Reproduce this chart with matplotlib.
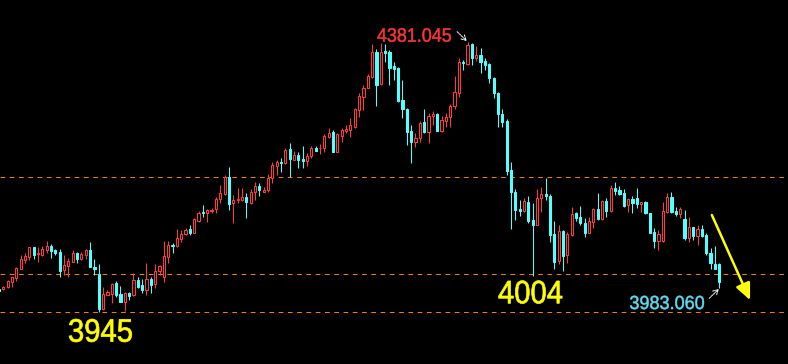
import matplotlib
matplotlib.use("Agg")
import matplotlib.pyplot as plt
import matplotlib.transforms as mtransforms
from matplotlib.textpath import TextPath
from matplotlib.patches import PathPatch
from matplotlib.font_manager import FontProperties
import numpy as np

# candle data (index order, left to right)
opens = [
    3982.0, 3981.5, 3985.2, 3993.3, 4000.2, 4014.8, 4028.9, 4034.2, 4049.4, 4037.8,
    4037.5, 4045.1, 4052.0, 4045.1, 4042.3, 4012.7, 4019.2, 4026.1, 4039.7, 4031.0,
    4037.5, 4045.1, 4017.1, 4006.2, 3949.6, 3972.7, 3973.9, 3991.2, 3973.9, 3961.4,
    3975.0, 3971.8, 3996.5, 3988.4, 3980.3, 3998.6, 3989.6, 4011.6, 4000.9, 4034.2,
    4053.1, 4052.0, 4062.9, 4070.5, 4078.5, 4073.0, 4092.5, 4107.0, 4104.4, 4108.6,
    4110.9, 4127.6, 4135.7, 4162.7, 4120.6, 4125.9, 4125.9, 4131.3, 4120.6, 4138.4,
    4148.6, 4139.4, 4142.1, 4162.0, 4181.4, 4187.9, 4185.3, 4208.0, 4191.1, 4198.7,
    4192.3, 4189.5, 4197.6, 4209.6, 4209.6, 4209.6, 4228.4, 4235.5, 4204.1, 4230.0,
    4237.6, 4239.2, 4244.5, 4271.5, 4293.1, 4307.6, 4325.4, 4364.9, 4313.1, 4367.0,
    4365.9, 4342.7, 4340.0, 4287.7, 4273.2, 4237.6, 4220.3, 4225.8, 4252.1, 4236.4,
    4261.8, 4264.6, 4238.1, 4254.2, 4259.7, 4278.5, 4299.5, 4349.7, 4346.0, 4378.3,
    4355.2, 4360.5, 4351.3, 4346.0, 4322.8, 4299.5, 4264.6, 4253.7, 4174.5, 4138.4,
    4111.4, 4108.1, 4122.2, 4093.6, 4085.5, 4128.7, 4136.1, 4132.9, 4070.5, 4027.3,
    4075.8, 4037.0, 4069.3, 4104.4, 4098.9, 4089.2, 4073.0, 4090.8, 4111.4, 4094.7,
    4124.8, 4108.6, 4144.9, 4142.1, 4137.8, 4117.9, 4127.1, 4128.7, 4119.0, 4123.2,
    4105.4, 4074.7, 4060.1, 4060.1, 4107.0, 4131.3, 4108.6, 4103.3, 4094.7, 4064.0,
    4081.8, 4067.7, 4078.5, 4069.3, 4040.7, 4022.4, 4022.4,
]
highs = [
    3983.6, 3987.3, 3996.5, 4001.9, 4018.0, 4037.0, 4039.7, 4050.4, 4049.4, 4049.4,
    4051.5, 4059.6, 4054.8, 4046.7, 4046.2, 4037.0, 4032.6, 4045.1, 4041.8, 4041.3,
    4047.2, 4057.5, 4030.5, 4021.9, 3984.7, 3980.3, 3991.2, 3994.9, 3986.8, 3977.6,
    3977.6, 4007.4, 4001.9, 3997.7, 4023.5, 4000.9, 4022.4, 4020.8, 4059.6, 4059.6,
    4055.9, 4079.0, 4077.4, 4080.6, 4085.5, 4096.3, 4108.1, 4117.9, 4111.4, 4113.0,
    4131.3, 4150.2, 4166.4, 4179.8, 4134.0, 4144.9, 4144.9, 4136.8, 4143.3, 4155.6,
    4153.0, 4147.5, 4167.5, 4186.9, 4190.7, 4193.4, 4209.6, 4218.6, 4205.2, 4203.1,
    4213.3, 4201.5, 4213.3, 4213.3, 4216.1, 4232.2, 4241.9, 4239.2, 4234.8, 4241.9,
    4247.3, 4258.1, 4275.3, 4298.6, 4312.0, 4329.3, 4377.8, 4370.2, 4379.5, 4378.3,
    4368.6, 4349.7, 4341.6, 4320.1, 4275.3, 4247.3, 4233.9, 4254.2, 4272.7, 4267.2,
    4270.4, 4266.2, 4261.8, 4266.2, 4280.8, 4326.6, 4356.2, 4352.4, 4381.045, 4380.4,
    4375.1, 4371.4, 4355.2, 4348.1, 4325.4, 4301.1, 4272.7, 4257.0, 4186.9, 4143.7,
    4125.9, 4128.7, 4132.4, 4120.6, 4143.3, 4147.5, 4162.0, 4135.2, 4092.0, 4085.5,
    4077.4, 4074.7, 4114.1, 4107.0, 4116.2, 4096.3, 4098.9, 4112.5, 4137.8, 4125.9,
    4128.7, 4150.2, 4154.6, 4148.6, 4143.3, 4128.7, 4132.4, 4144.9, 4123.2, 4124.3,
    4105.4, 4080.2, 4077.4, 4123.2, 4136.8, 4139.4, 4114.1, 4114.1, 4109.8, 4098.9,
    4082.7, 4085.5, 4085.5, 4072.1, 4047.8, 4051.5, 4023.5,
]
lows = [
    3977.1, 3980.3, 3983.6, 3985.2, 3995.4, 4013.8, 4023.5, 4028.9, 4031.0, 4026.1,
    4035.3, 4039.7, 4031.6, 4037.5, 4001.9, 4004.6, 4001.9, 4025.2, 4023.5, 4028.9,
    4031.0, 4018.0, 4004.6, 3945.2, 3948.0, 3972.3, 3958.8, 3969.5, 3961.4, 3946.4,
    3964.2, 3970.6, 3983.1, 3976.0, 3972.3, 3975.0, 3984.1, 4004.6, 3993.8, 4024.5,
    4040.7, 4050.4, 4058.5, 4068.8, 4069.3, 4072.1, 4090.8, 4098.9, 4090.8, 4105.4,
    4105.4, 4120.6, 4134.0, 4109.8, 4089.2, 4120.6, 4124.8, 4096.8, 4119.5, 4125.9,
    4132.9, 4138.4, 4139.4, 4153.0, 4166.4, 4171.7, 4183.7, 4163.6, 4190.7, 4177.2,
    4178.2, 4181.4, 4193.4, 4205.2, 4199.9, 4204.1, 4225.8, 4204.1, 4204.1, 4220.3,
    4233.9, 4227.4, 4242.9, 4260.7, 4271.5, 4306.7, 4322.8, 4278.5, 4312.0, 4349.7,
    4312.0, 4320.1, 4285.0, 4258.1, 4214.9, 4186.3, 4212.2, 4220.3, 4233.9, 4217.7,
    4247.3, 4238.1, 4236.4, 4244.5, 4244.5, 4272.7, 4292.1, 4336.3, 4344.3, 4344.3,
    4351.3, 4331.9, 4336.3, 4315.7, 4290.5, 4244.5, 4244.5, 4166.4, 4079.0, 4093.6,
    4100.5, 4107.0, 4088.3, 4003.5, 4085.5, 4107.0, 4125.9, 4057.5, 4014.3, 4021.9,
    4011.1, 4023.5, 4067.7, 4092.5, 4085.5, 4065.6, 4072.1, 4080.2, 4093.6, 4093.6,
    4098.9, 4107.0, 4134.0, 4134.0, 4115.1, 4107.0, 4104.4, 4112.5, 4107.0, 4102.8,
    4072.1, 4047.8, 4045.1, 4058.5, 4104.4, 4105.4, 4100.5, 4096.3, 4061.2, 4058.5,
    4061.2, 4053.1, 4066.6, 4037.0, 4013.8, 4013.8, 3983.06,
]
closes = [
    3978.7, 3985.7, 3994.9, 4000.9, 4015.9, 4030.0, 4034.9, 4049.4, 4037.0, 4039.4,
    4046.7, 4051.5, 4043.0, 4040.7, 4011.6, 4021.3, 4027.7, 4039.7, 4031.0, 4038.1,
    4045.1, 4018.0, 4014.8, 3949.6, 3973.4, 3977.1, 3990.0, 3972.3, 3961.4, 3976.0,
    3970.6, 3996.5, 3985.7, 3980.3, 3997.7, 3988.4, 4011.1, 4019.2, 4035.3, 4053.1,
    4051.5, 4064.0, 4070.5, 4077.4, 4073.0, 4095.2, 4104.4, 4104.4, 4109.8, 4109.8,
    4127.1, 4136.8, 4162.7, 4119.5, 4125.9, 4127.1, 4130.3, 4122.7, 4139.4, 4149.1,
    4141.6, 4142.1, 4161.1, 4182.6, 4187.9, 4185.3, 4206.8, 4191.8, 4198.7, 4190.7,
    4189.0, 4197.1, 4209.6, 4205.7, 4210.6, 4229.5, 4234.8, 4204.1, 4232.2, 4239.2,
    4240.8, 4247.3, 4273.2, 4294.2, 4306.7, 4326.6, 4364.9, 4312.0, 4365.9, 4364.2,
    4340.0, 4337.9, 4286.6, 4272.7, 4236.4, 4220.3, 4226.7, 4250.0, 4236.4, 4261.8,
    4265.1, 4238.1, 4255.4, 4259.7, 4278.5, 4300.2, 4349.7, 4347.1, 4376.7, 4355.2,
    4360.5, 4349.7, 4344.3, 4322.8, 4298.6, 4264.6, 4251.6, 4172.9, 4138.4, 4109.8,
    4108.1, 4124.8, 4092.0, 4085.5, 4128.7, 4135.2, 4132.9, 4069.3, 4026.1, 4075.8,
    4035.8, 4070.9, 4103.3, 4096.3, 4088.3, 4073.0, 4092.5, 4110.9, 4094.7, 4124.8,
    4108.6, 4144.9, 4141.0, 4135.7, 4116.7, 4127.1, 4120.6, 4119.5, 4123.2, 4104.4,
    4073.0, 4060.1, 4070.9, 4108.6, 4131.3, 4107.0, 4103.3, 4110.9, 4064.0, 4081.8,
    4067.7, 4078.5, 4067.7, 4039.7, 4024.5, 4013.8, 3993.8,
]

# dashed support / resistance levels
levels = [4163.0, 4005.5, 3945.5]

# annotations
high_label = "4381.045"
low_label = "3983.060"
support_labels = ["3945", "4004"]

UP = "#ff3b3b"
DOWN = "#54ffff"
LEVEL = "#ee8010"

o = np.array(opens)
h = np.array(highs)
l = np.array(lows)
c = np.array(closes)
idx = np.arange(len(o))
up = c >= o

fig = plt.figure(figsize=(7.88, 3.64), dpi=100, facecolor="black")
ax = fig.add_axes([0, 0, 1, 1])
ax.set_facecolor("black")
ax.set_xlim(0.24, 181.85)
ax.set_ylim(3860.6, 4449.5)
ax.axis("off")

for lv in levels:
    ax.axhline(lv, color=LEVEL, lw=0.75, linestyle=(0, (4.5, 4.4)), zorder=1)

colors = np.where(up, UP, DOWN)
ax.vlines(idx, l, h, colors=colors, lw=0.75, zorder=2)

body = np.maximum(np.abs(c - o), 0.8)
bottom = np.minimum(o, c)
ax.bar(idx[up], body[up], bottom=bottom[up], width=0.5,
       facecolor="black", edgecolor=UP, linewidth=0.75, zorder=3)
ax.bar(idx[~up], body[~up], bottom=bottom[~up], width=0.5,
       facecolor=DOWN, edgecolor=DOWN, linewidth=0.75, zorder=3)

FONT = FontProperties(family="Liberation Sans")


def put_label(s, xy, size_px, color, squeeze, edge=0.35):
    # text drawn as a path so it can be narrowed like the original font
    path = TextPath((0, 0), s, size=size_px, prop=FONT)
    x0, y0 = ax.transData.transform(xy)
    tr = mtransforms.Affine2D().scale(squeeze, 1.0).translate(x0, y0)
    ax.add_artist(PathPatch(path, transform=tr, facecolor=color,
                            edgecolor=color, linewidth=edge, zorder=5))


put_label(high_label, (87.1, 4382.0), 19.5, "#ff3636", 0.92)
put_label(low_label, (145.3, 3949.5), 19.0, "#60dcf4", 0.95)
put_label(support_labels[0], (15.9, 3896.7), 32.5, "#ffff00", 0.9, 0.5)
put_label(support_labels[1], (115.0, 3958.8), 32.5, "#ffff00", 0.9, 0.5)

white_arrow = dict(arrowstyle="->,head_length=0.35,head_width=0.2", color="white",
                   lw=0.7, linestyle=(0, (2, 1)), shrinkA=0, shrinkB=0)
ax.annotate("", xy=(107.8, 4383.2), xytext=(105.6, 4398.2), arrowprops=white_arrow)
ax.annotate("", xy=(165.9, 3981.9), xytext=(163.7, 3966.9), arrowprops=white_arrow)

ax.annotate("", xy=(173.1, 3964.0), xytext=(164.3, 4101.7),
            arrowprops=dict(arrowstyle="-|>,head_length=1.0,head_width=0.45",
                            color="#ffff00", lw=1.8, shrinkA=0, shrinkB=0))

fig.savefig("out.png", dpi=100, facecolor="black")
